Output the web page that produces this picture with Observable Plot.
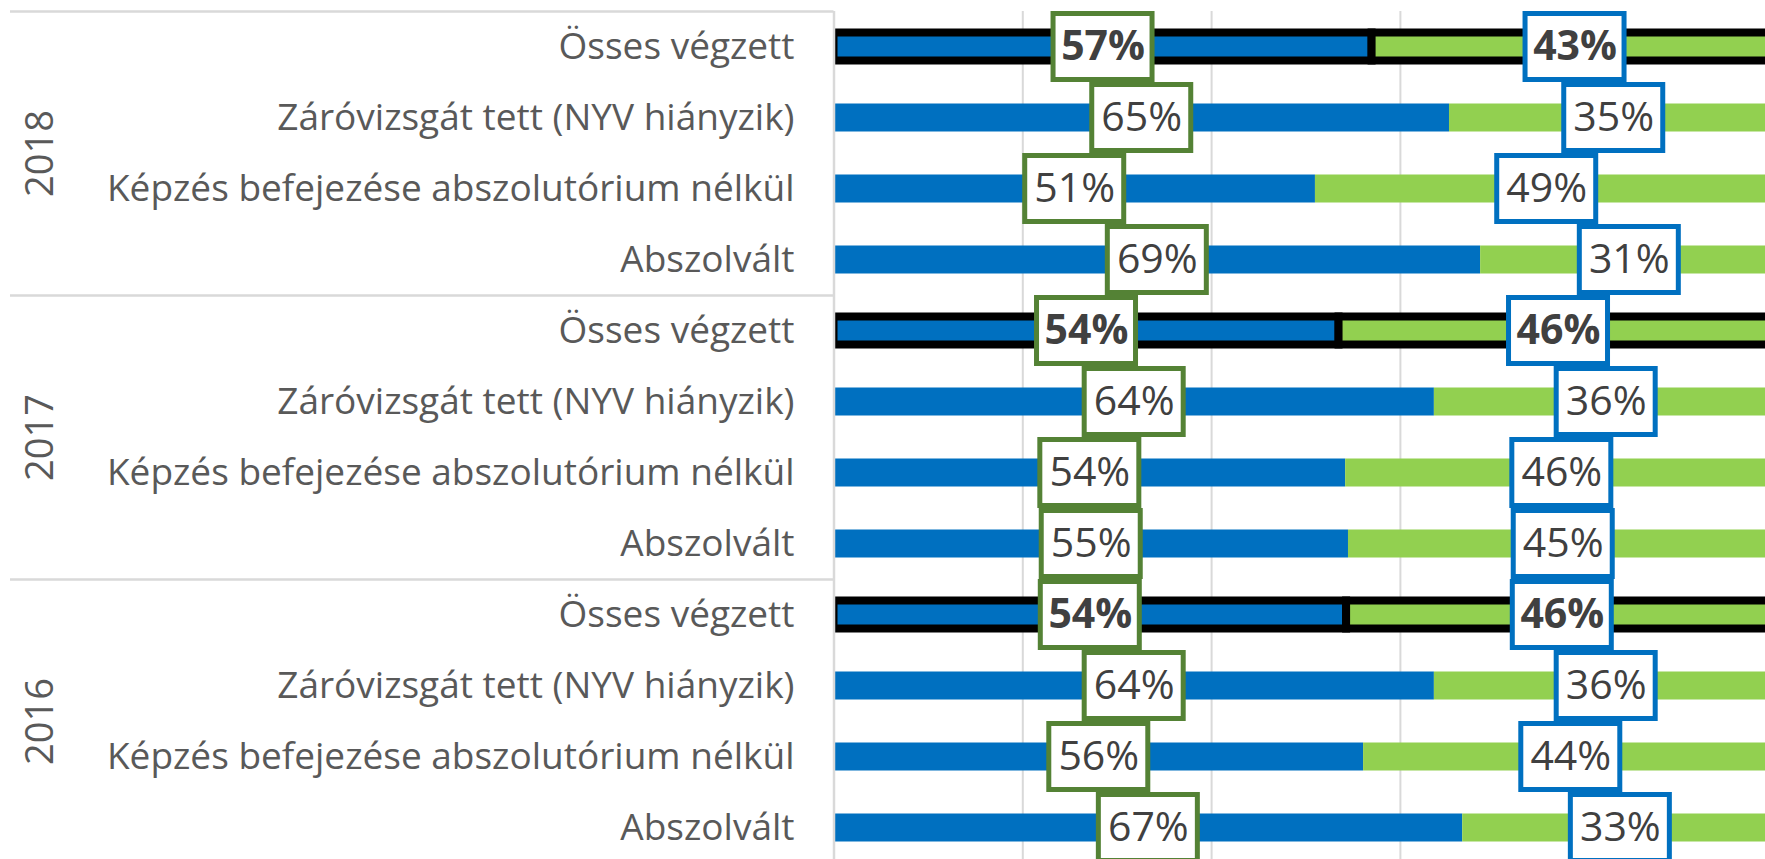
<!DOCTYPE html>
<html><head><meta charset="utf-8">
<script src="https://cdn.jsdelivr.net/npm/d3@7"></script>
<script src="https://cdn.jsdelivr.net/npm/@observablehq/plot@0.6"></script>
<style>
html,body{margin:0;padding:0;background:#fff;overflow:hidden}
#chart svg{display:block}
</style>
</head><body><div id="chart"></div>
<script>
const years = ["2018", "2017", "2016"];
const categories = ["Össes végzett", "Záróvizsgát tett (NYV hiányzik)", "Képzés befejezése abszolutórium nélkül", "Abszolvált"];
// blue share (%)
const share2018 = [57.0, 65.2, 51.0, 68.5];
const share2017 = [53.5, 63.6, 54.2, 54.5];
const share2016 = [54.3, 63.6, 56.1, 66.6];
// data labels printed on the bars (blue part)
const label2018 = [57, 65, 51, 69];
const label2017 = [54, 64, 54, 55];
const label2016 = [54, 64, 56, 67];
const gridTicks = [0.2, 0.4, 0.6, 0.8, 1];
const colorA = "#0070C0", colorB = "#92D050";
const boxA = "#548235", boxB = "#0070C0";

const rows = [];
[[share2018, label2018], [share2017, label2017], [share2016, label2016]].forEach(([vals, labs], g) => vals.forEach((v, k) => rows.push({
  row: g * 4 + k, year: years[g], cat: categories[k], a: v / 100, lab: labs[k], total: k === 0
})));
const segs = rows.flatMap(d => [
  {row: d.row, x1: 0, x2: d.a, fill: colorA, box: boxA, total: d.total, pct: d.lab},
  {row: d.row, x1: d.a, x2: 1, fill: colorB, box: boxB, total: d.total, pct: 100 - d.lab}
]);
const xRange = [833.5, 1777.5];
const xs = d3.scaleLinear([0, 1], xRange);
const hw = xs.invert(xRange[0] + 49.5);          // half width of a label box
const sepLeft = xs.invert(10);                     // left end of group separators
const separators = [0, 4, 8, 12];
const yearGroups = years.map((y, g) => ({year: y, mid: g * 4 + 2}));
const font = "Open Sans";

const labelOpts = {x: d => (d.x1 + d.x2) / 2, y: d => d.row + 0.5, text: d => d.pct + "%", fontSize: 41, fill: "#404040"};
const barOpts = {x1: "x1", x2: "x2", y1: "row", y2: d => d.row + 1, insetTop: 21.5, insetBottom: 21.5, fill: "fill"};

const plot = Plot.plot({
  width: 1765, height: 859,
  marginLeft: 833, marginRight: 0, marginTop: 11, marginBottom: 0,
  style: {fontFamily: font, fontSize: "37px", color: "#595959", background: "#fff"},
  x: {domain: [0, 1], range: xRange, axis: null},
  y: {domain: [0, 12], range: [11, 863], ticks: rows.map(d => d.row + 0.5), tickFormat: v => rows[Math.floor(v)].cat, tickSize: 0, tickPadding: 39, label: null},
  marks: [
    Plot.ruleX(gridTicks, {stroke: "#d9d9d9", strokeWidth: 2}),
    Plot.ruleY(separators, {x1: sepLeft, x2: 0, stroke: "#d9d9d9", strokeWidth: 2.5}),
    Plot.rect(segs.filter(d => !d.total), barOpts),
    Plot.rect(segs.filter(d => d.total), {...barOpts, stroke: "#000", strokeWidth: 8, clip: true}),
    Plot.ruleX([0], {stroke: "#d9d9d9", strokeWidth: 2.5}),
    Plot.rect(segs, {x1: d => (d.x1 + d.x2) / 2 - hw, x2: d => (d.x1 + d.x2) / 2 + hw, y1: "row", y2: d => d.row + 1, insetTop: 2.5, insetBottom: 2.5, fill: "#fff", stroke: "box", strokeWidth: 5}),
    Plot.text(segs.filter(d => !d.total), labelOpts),
    Plot.text(segs.filter(d => d.total), {...labelOpts, fontWeight: "bold"}),
    Plot.text(yearGroups, {y: "mid", text: "year", frameAnchor: "left", textAnchor: "middle", dx: -793, rotate: -90, fontSize: 38, fill: "#595959"})
  ]
});
document.getElementById("chart").appendChild(plot);
</script>
</body></html>
